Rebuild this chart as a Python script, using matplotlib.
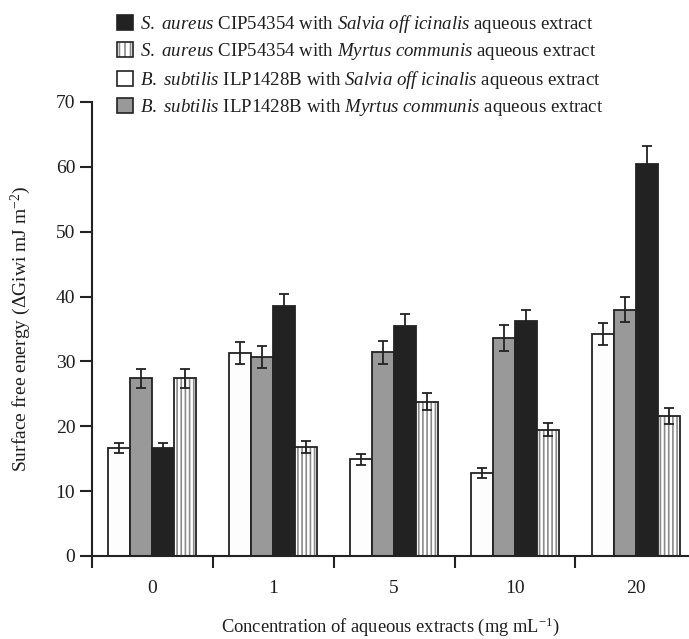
import matplotlib
matplotlib.use("Agg")
import matplotlib.pyplot as plt
import numpy as np
from matplotlib.patches import Patch
from matplotlib.legend_handler import HandlerTuple

plt.rcParams['font.family'] = ['Liberation Serif', 'DejaVu Serif']
plt.rcParams['mathtext.fontset'] = 'custom'
plt.rcParams['mathtext.rm'] = 'Liberation Serif'
plt.rcParams['mathtext.it'] = 'Liberation Serif:italic'
plt.rcParams['hatch.linewidth'] = 1.2
plt.rcParams['text.color'] = '#1e1e1e'
plt.rcParams['xtick.color'] = '#1e1e1e'
plt.rcParams['ytick.color'] = '#1e1e1e'
plt.rcParams['axes.labelcolor'] = '#1e1e1e'

categories = ['0', '1', '5', '10', '20']
bs_salvia = [16.7, 31.3, 14.9, 12.8, 34.3]
bs_salvia_err = [0.8, 1.7, 0.9, 0.7, 1.7]
bs_myrtus = [27.4, 30.7, 31.4, 33.6, 38.0]
bs_myrtus_err = [1.5, 1.7, 1.8, 2.0, 1.9]
sa_salvia = [16.7, 38.6, 35.4, 36.3, 60.4]
sa_salvia_err = [0.8, 1.8, 1.9, 1.7, 2.8]
sa_myrtus = [27.4, 16.8, 23.8, 19.5, 21.6]
sa_myrtus_err = [1.5, 0.9, 1.3, 1.0, 1.2]

lab_sa_salvia = r"$\mathit{S.\ aureus}$ CIP54354 with $\mathit{Salvia\ off\ icinalis}$ aqueous extract"
lab_sa_myrtus = r"$\mathit{S.\ aureus}$ CIP54354 with $\mathit{Myrtus\ communis}$ aqueous extract"
lab_bs_salvia = r"$\mathit{B.\ subtilis}$ ILP1428B with $\mathit{Salvia\ off\ icinalis}$ aqueous extract"
lab_bs_myrtus = r"$\mathit{B.\ subtilis}$ ILP1428B with $\mathit{Myrtus\ communis}$ aqueous extract"

edge = '#222222'
fig = plt.figure(figsize=(6.89, 6.39), dpi=100)
ax = fig.add_axes([92/689, 1 - 556/639, 1 - 92/689, (556 - 102)/639])

x = np.arange(len(categories))
w = 0.182
ekw = dict(ecolor=edge, elinewidth=1.3, capsize=3.6, capthick=1.3)

ax.bar(x - 1.5*w, bs_salvia, w, color='#fdfdfd', edgecolor=edge, linewidth=1.3,
       yerr=bs_salvia_err, error_kw=ekw, zorder=2)
ax.bar(x - 0.5*w, bs_myrtus, w, color='#999999', edgecolor=edge, linewidth=1.3,
       yerr=bs_myrtus_err, error_kw=ekw, zorder=2)
ax.bar(x + 0.5*w, sa_salvia, w, color='#222222', edgecolor=edge, linewidth=1.3,
       yerr=sa_salvia_err, error_kw=ekw, zorder=2)
ax.bar(x + 1.5*w, sa_myrtus, w, color='white', edgecolor='#8a8a8a', linewidth=0,
       hatch='||||', zorder=2)
ax.bar(x + 1.5*w, sa_myrtus, w, color='none', edgecolor=edge, linewidth=1.3,
       yerr=sa_myrtus_err, error_kw=ekw, zorder=3)

ax.set_xlim(-0.5, 4.44)
ax.set_ylim(0, 70)
ax.set_yticks(np.arange(0, 71, 10))
ax.set_xticks(x)
ax.set_xticklabels(categories)
ax.set_xticks(np.arange(-0.5, 4.0, 1.0), minor=True)
ax.tick_params(axis='x', which='major', length=0, pad=17.5, labelsize=14)
ax.tick_params(axis='x', which='minor', length=8.5, width=1.5, direction='out', color=edge)
ax.tick_params(axis='y', length=8.5, width=1.5, direction='out', labelsize=14, color=edge, pad=3.5)
for s in ['top', 'right']:
    ax.spines[s].set_visible(False)
for s in ['left', 'bottom']:
    ax.spines[s].set_linewidth(1.5)
    ax.spines[s].set_color(edge)

ax.set_xlabel(r"Concentration of aqueous extracts (mg mL$^{-1}$)", fontsize=13.3, labelpad=13)
ax.set_ylabel(r"Surface free energy ($\Delta$Giwi mJ m$^{-2}$)", fontsize=14, labelpad=16)

h_black = Patch(facecolor='#222222', edgecolor=edge, linewidth=1.2)
h_hatch = (Patch(facecolor='white', edgecolor='#8a8a8a', linewidth=0, hatch='|||'),
           Patch(facecolor='none', edgecolor=edge, linewidth=1.2))
h_white = Patch(facecolor='white', edgecolor=edge, linewidth=1.2)
h_gray = Patch(facecolor='#999999', edgecolor=edge, linewidth=1.2)
fig.legend([h_black, h_hatch, h_white, h_gray],
           [lab_sa_salvia, lab_sa_myrtus, lab_bs_salvia, lab_bs_myrtus],
           handler_map={tuple: HandlerTuple(ndivide=1, pad=0)},
           loc='upper left', bbox_to_anchor=(117/689, 1 - 13/639), frameon=False,
           fontsize=13.6, handlelength=0.85, handleheight=0.85, handletextpad=0.37,
           labelspacing=0.34, borderaxespad=0, borderpad=0)

fig.savefig('out.png', dpi=100)
